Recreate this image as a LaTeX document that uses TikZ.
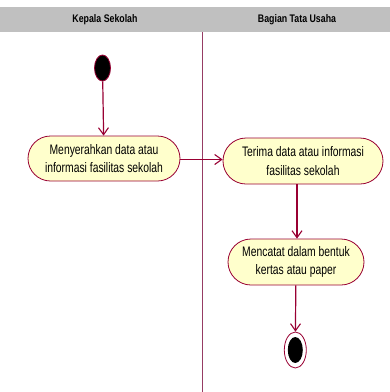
\documentclass[tikz,border=0pt]{standalone}
\usepackage{fontspec}
\usetikzlibrary{arrows.meta,shapes.geometric}
\newfontfamily\headfont[FakeStretch=0.8]{Liberation Sans}
\newfontfamily\actfont[FakeStretch=0.75]{Liberation Sans}
\definecolor{umlline}{RGB}{153,0,51}
\definecolor{umlfill}{RGB}{255,255,204}
\definecolor{lanehead}{RGB}{192,192,192}
\definecolor{laneline}{RGB}{150,60,100}
\tikzset{
  flow/.style={draw=umlline, line width=1.2pt, -{Straight Barb[length=7pt,width=10pt,line width=1.1pt]}},
  actbox/.style={draw=umlline, fill=umlfill, line width=0.8pt, rectangle, rounded corners=22.5pt,
    minimum height=45pt, inner sep=0pt, align=center,
    font=\actfont\fontsize{13.8pt}{18.5pt}\selectfont},
  lanetitle/.style={font=\headfont\bfseries\fontsize{11pt}{12pt}\selectfont, inner sep=0pt},
}
\begin{document}
\begin{tikzpicture}[x=1pt,y=-1pt]
  \useasboundingbox (0,0) rectangle (390,392);
  \fill[white] (0,0) rectangle (390,392);
  % swimlane header band and divider
  \fill[lanehead] (0,7) rectangle (390,32);
  \node[lanetitle] (lane1) at (105,19.5) {Kepala Sekolah};
  \node[lanetitle] (lane2) at (297,19.5) {Bagian Tata Usaha};
  \draw[laneline, line width=0.6pt] (202,32) -- (202,392);
  % initial node
  \node[ellipse, draw=umlline, fill=black, line width=0.8pt, minimum width=16pt, minimum height=26pt, inner sep=0pt] (start) at (102.5,68) {};
  % actions
  \node[actbox, minimum width=152pt] (a1) at (104,158.5) {Menyerahkan data atau\\informasi fasilitas sekolah};
  \node[actbox, minimum width=160pt, minimum height=46pt, rounded corners=23pt] (a2) at (303,161) {Terima data atau informasi\\fasilitas sekolah};
  \node[actbox, minimum width=136pt, minimum height=46pt, rounded corners=23pt] (a3) at (296,262) {Mencatat dalam bentuk\\kertas atau paper};
  % final node
  \node[ellipse, draw=umlline, fill=white, line width=0.8pt, minimum width=22pt, minimum height=36pt, inner sep=0pt] (final) at (295.3,350) {};
  \node[ellipse, fill=black, minimum width=15pt, minimum height=26pt, inner sep=0pt] (finalcore) at (295.3,350) {};
  % control flows
  \draw[flow] (start) -- (a1);
  \draw[flow] (a1.east |- 0,159.5) -- (a2.west |- 0,159.5);
  \draw[flow] (a2.south -| 297,0) -- (a3.north -| 297,0);
  \draw[flow] (a3) -- (final);
\end{tikzpicture}
\end{document}
